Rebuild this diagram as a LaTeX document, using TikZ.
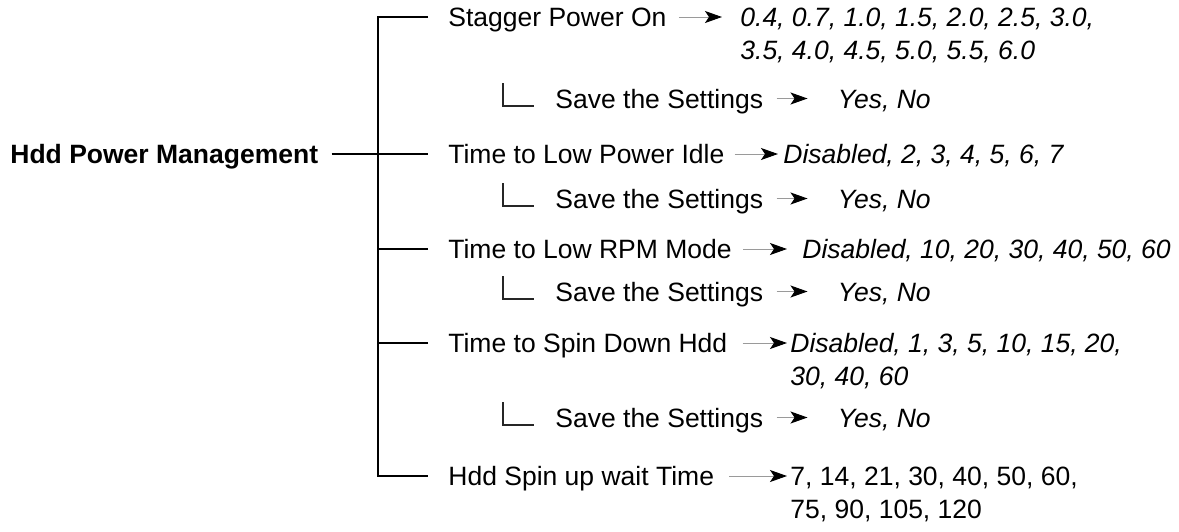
\documentclass[tikz,border=0pt]{standalone}
\usepackage{fontspec}
\setmainfont{Liberation Sans}
\usetikzlibrary{arrows.meta}
\definecolor{shaftgray}{HTML}{9A9A9A}
\newcommand{\menufont}{\fontsize{13.25}{16.5}\selectfont}

\begin{document}
\begin{tikzpicture}[x=0.5pt, y=-0.5pt,
    item/.style={anchor=base west, inner sep=0pt, text height=9.5pt, text depth=0pt, font=\menufont},
    choice/.style={anchor=base west, inner sep=0pt, align=left, font=\menufont\itshape},
    branch/.style={line width=1pt},
    elbow/.style={line width=1pt, draw=black!85},
    pointer/.style={draw=shaftgray, line width=0.5pt, -{Stealth[length=8.5pt, width=6pt, inset=2pt, black]}}
  ]
  \useasboundingbox (0,0) rectangle (1179,531);

  % Root
  \node[item, font=\menufont\bfseries] (pm_label) at (10,163.5) {Hdd Power Management};

  % Menu items
  \node[item] (stagger) at (448,26.5) {Stagger Power On};
  \node[item] (idle) at (448,163.5) {Time to Low Power Idle};
  \node[item] (rpm) at (448,258.5) {Time to Low RPM Mode};
  \node[item] (spindown) at (448,352.5) {Time to Spin Down Hdd};
  \node[item] (spinup) at (448,485.5) {Hdd Spin up wait Time};

  % Tree
  \draw[branch] ([xshift=-10pt]stagger.west) -| ([xshift=-35pt]spinup.west) -- ([xshift=-10pt]spinup.west);
  \draw[branch] ([xshift=6.5pt]pm_label.east) -- ([xshift=-10pt]idle.west);
  \foreach \n in {rpm, spindown}
    \draw[branch] ([xshift=-10pt]\n.west) -- ++(-25pt,0);

  % Values (two-line ones sit on the baseline of their last line)
  \node[choice] (stagger_v) at (740,59.5) {0.4, 0.7, 1.0, 1.5, 2.0, 2.5, 3.0,\\3.5, 4.0, 4.5, 5.0, 5.5, 6.0};
  \node[choice] (idle_v) at (783,163.5) {Disabled, 2, 3, 4, 5, 6, 7};
  \node[choice] (rpm_v) at (802,258.5) {Disabled, 10, 20, 30, 40, 50, 60};
  \node[choice] (spindown_v) at (790,385.5) {Disabled, 1, 3, 5, 10, 15, 20,\\30, 40, 60};
  \node[choice, font=\menufont] (spinup_v) at (790,518.5) {7, 14, 21, 30, 40, 50, 60,\\75, 90, 105, 120};

  \draw[pointer] ([xshift=6pt]stagger.east) -- ([xshift=-9pt]stagger_v.west |- stagger.east);
  \draw[pointer] ([xshift=5pt]idle.east) -- ([xshift=-2.5pt]idle_v.west |- idle.east);
  \draw[pointer] ([xshift=5.5pt]rpm.east) -- ([xshift=-7.5pt]rpm_v.west |- rpm.east);
  \draw[pointer] ([xshift=7.5pt]spindown.east) -- ([xshift=-1.5pt]spindown_v.west |- spindown.east);
  \draw[pointer] ([xshift=7.5pt]spinup.east) -- ([xshift=-1.5pt]spinup_v.west |- spinup.east);

  % Save the Settings
  \foreach \i/\y in {1/108, 2/208, 3/301, 4/427} {
    \node[item] (save\i) at (555,\y) {Save the Settings};
    \draw[elbow] ([shift={(-26pt,12.5pt)}]save\i.base west) |- ([shift={(-10.5pt,1pt)}]save\i.base west);
    \node[choice] (yes\i) at ([xshift=37pt]save\i.base east) {Yes, No};
    \draw[pointer] ([xshift=6.5pt]save\i.east) -- ([xshift=-15pt]yes\i.west |- save\i.east);
  }
\end{tikzpicture}
\end{document}
